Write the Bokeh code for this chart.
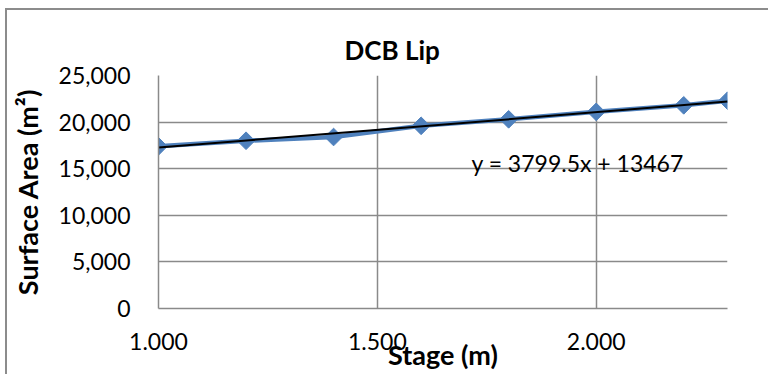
import math
from bokeh.plotting import figure
from bokeh.models import Range1d, FixedTicker, NumeralTickFormatter, Label, ColumnDataSource, Title
from bokeh.embed import file_html
from bokeh.resources import INLINE

# Data
stage = [1.0, 1.2, 1.4, 1.6, 1.8, 2.0, 2.2, 2.3]
area = [17400, 18000, 18400, 19600, 20300, 21100, 21800, 22300]
slope = 3799.5
intercept = 13467
x_ticks = [1.0, 1.5, 2.0]
y_ticks = [0, 5000, 10000, 15000, 20000, 25000]
title_text = "DCB Lip"
x_label = "Stage (m)"
y_label = "Surface Area (m\u00b2)"
eq_text = "y = 3799.5x + 13467"

FONT = "Lato"
GRID = "#8a8a8a"
BLUE = "#4F81BD"

OX, OY, BW = 5, 8, 2  # figure offset in page (outer chart border) and border width
CX, CY = OX + BW, OY + BW  # canvas origin in page
RIGHT_EDGE = 770
W, H = RIGHT_EDGE - CX, 376 - CY

p = figure(width=W, height=H, output_backend="svg", toolbar_location=None,
           x_range=Range1d(1.0, 2.3), y_range=Range1d(0, 25000),
           min_border_left=158 - CX, min_border_right=RIGHT_EDGE - 727,
           min_border_top=75 - CY, min_border_bottom=376 - 308)
p.margin = (OY, 0, 0, OX)
p.styles = {"border-left": "2px solid #8c8c8c", "border-top": "2px solid #8c8c8c",
            "border-right": "none", "border-bottom": "none", "outline": "none",
            "box-shadow": "none"}
p.outline_line_color = None
p.background_fill_color = "white"
p.border_fill_color = "white"

p.title = Title(text=title_text, align="left", offset=186, text_font=FONT,
                text_font_style="bold", text_font_size="26px", text_color="black", standoff=19)

# axes
p.xaxis.ticker = FixedTicker(ticks=x_ticks)
p.yaxis.ticker = FixedTicker(ticks=y_ticks)
p.xaxis.formatter = NumeralTickFormatter(format="0.000")
p.yaxis.formatter = NumeralTickFormatter(format="0,0")
for ax in (p.xaxis, p.yaxis):
    ax.major_tick_line_color = None
    ax.minor_tick_line_color = None
    ax.axis_line_color = GRID
    ax.axis_line_width = 1.5
    ax.major_label_text_font = FONT
    ax.major_label_text_font_size = "23px"
    ax.major_label_text_color = "black"
    ax.axis_label_text_font = FONT
    ax.axis_label_text_font_style = "bold"
    ax.axis_label_text_color = "black"
p.xaxis.major_label_standoff = 18
p.yaxis.major_label_standoff = 22
p.yaxis.axis_label = y_label
p.yaxis.axis_label_text_font_size = "27px"
p.yaxis.axis_label_standoff = 12
p.xaxis.axis_label = x_label
p.xaxis.axis_label_text_font_size = "27px"
p.xaxis.axis_label_standoff = -15

p.xgrid.ticker = FixedTicker(ticks=x_ticks)
p.ygrid.ticker = FixedTicker(ticks=y_ticks)
for g in (p.xgrid, p.ygrid):
    g.grid_line_color = GRID
    g.grid_line_width = 1.5

src = ColumnDataSource(dict(x=stage, y=area))
p.line("x", "y", source=src, line_color=BLUE, line_width=4.5)
p.scatter("x", "y", source=src, marker="square", angle=math.pi / 4, size=12.5,
          fill_color=BLUE, line_color=BLUE)

tx = [stage[0], stage[-1]]
ty = [slope * v + intercept for v in tx]
p.line(tx, ty, line_color="black", line_width=2)

p.add_layout(Label(x=1.715, y=15558, text=eq_text, text_font=FONT, text_color="black",
                   text_font_size="23px", text_align="left", text_baseline="middle"))

open("out.html", "w").write(file_html(p, INLINE))
